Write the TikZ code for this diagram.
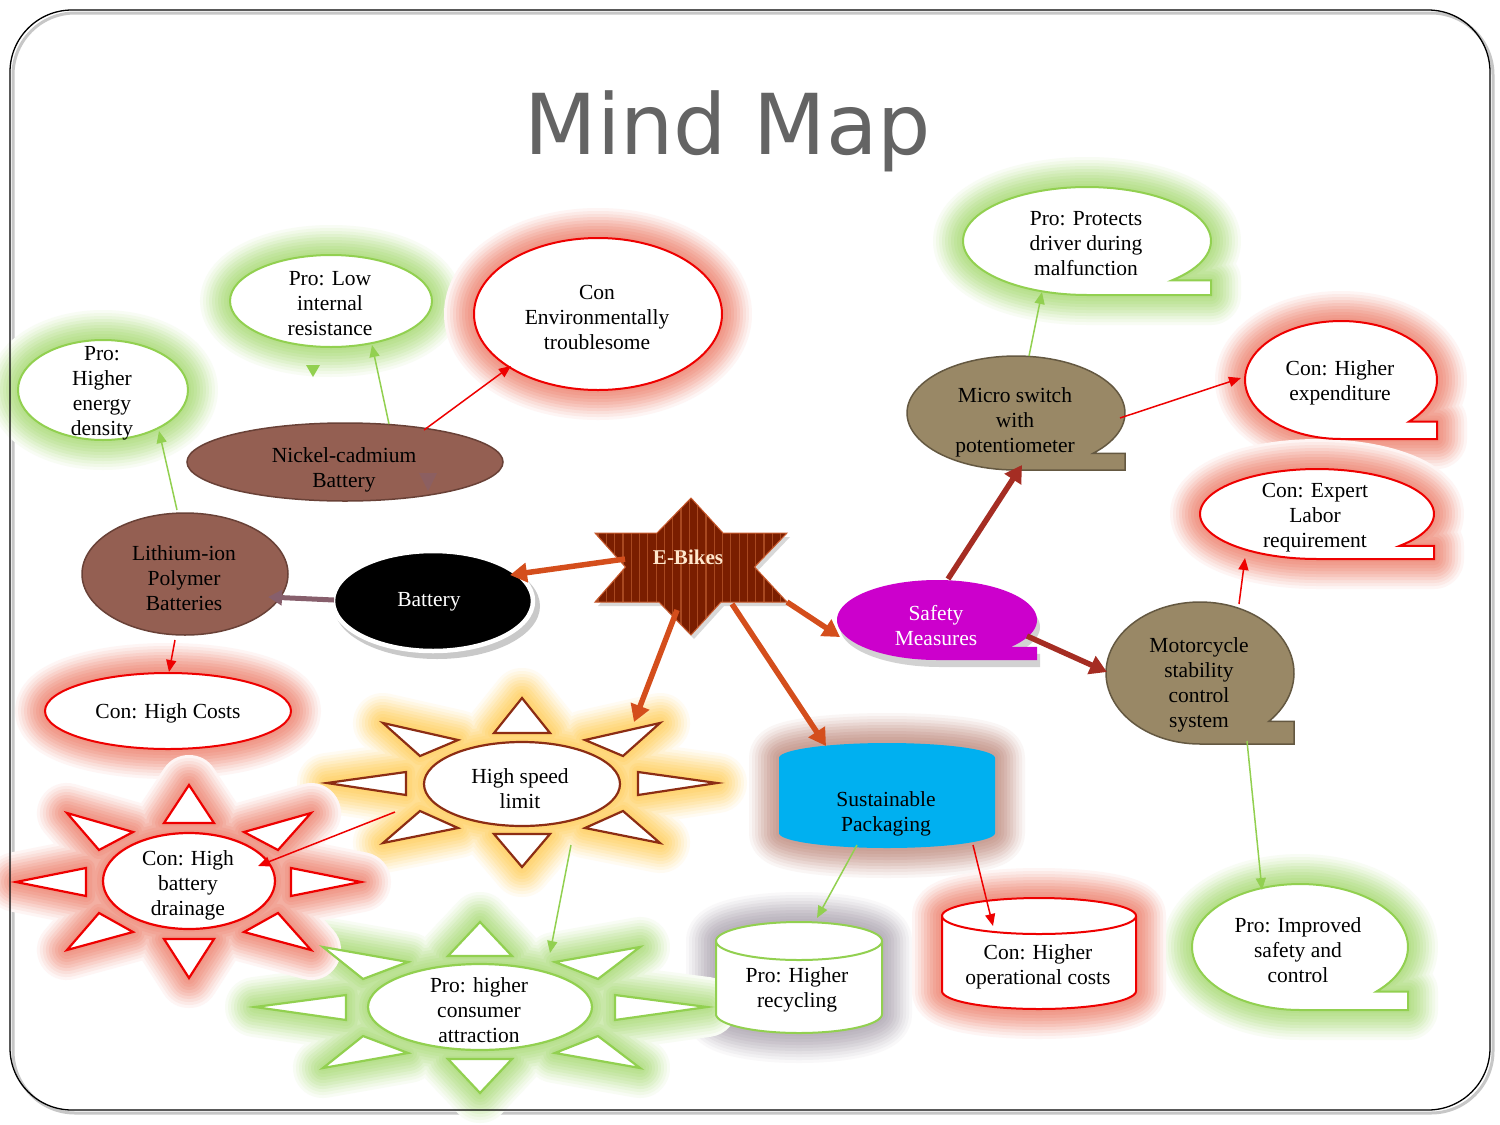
\documentclass[tikz,border=0pt]{standalone}
\usepackage{fontspec}
\setmainfont{Liberation Serif}
\newfontfamily\titlefont{DejaVu Sans}
\usetikzlibrary{shapes.geometric,arrows.meta,calc}

\definecolor{grn}{RGB}{146,208,80}
\definecolor{rd}{RGB}{238,0,0}
\definecolor{redglow}{RGB}{232,95,70}
\definecolor{grnglow}{RGB}{145,208,80}
\definecolor{yelglow}{RGB}{255,190,40}
\definecolor{pinkglow}{RGB}{175,110,95}
\definecolor{grayglow}{RGB}{150,140,155}
\definecolor{brfill}{RGB}{148,95,82}
\definecolor{brline}{RGB}{105,65,55}
\definecolor{tanfill}{RGB}{153,136,102}
\definecolor{tanline}{RGB}{100,88,65}
\definecolor{magfill}{RGB}{204,0,204}
\definecolor{cyanfill}{RGB}{0,176,240}
\definecolor{orarrow}{RGB}{212,78,28}
\definecolor{mauvearrow}{RGB}{135,95,108}
\definecolor{dkarrow}{RGB}{165,45,35}
\definecolor{sunline}{RGB}{140,45,20}
\definecolor{starfill}{RGB}{122,30,0}
\definecolor{starline}{RGB}{168,72,32}
\definecolor{staredge}{RGB}{200,90,45}
\definecolor{titlegray}{RGB}{100,100,100}
\definecolor{ebtext}{RGB}{255,232,205}

\pgfdeclarelayer{bglayer}
\pgfdeclarelayer{glowlayer}
\pgfsetlayers{bglayer,glowlayer,main}

\tikzset{
  gstep/.style n args={3}{preaction={draw=#1!#2!white,line width=#3,line join=round,line cap=round}},
  glow/.style={gstep={#1}{6}{60pt},gstep={#1}{13}{54pt},gstep={#1}{20}{48pt},
    gstep={#1}{28}{42pt},gstep={#1}{36}{36pt},gstep={#1}{43}{30pt},
    gstep={#1}{50}{24pt},gstep={#1}{56}{18pt},gstep={#1}{61}{12pt},gstep={#1}{65}{6pt}},
  shapebase/.style={ellipse,inner sep=0pt,outer sep=0pt},
  proell/.style={shapebase,draw=grn,line width=2pt,fill=white},
  conell/.style={shapebase,draw=rd,line width=2pt,fill=white},
  brell/.style={shapebase,draw=brline,line width=1.5pt,fill=brfill},
  txt/.style={align=center,inner sep=0pt,yshift=-2pt,font=\fontsize{21.5}{25}\selectfont},
  proarrow/.style={draw=grn,line width=1.5pt,-{Triangle[length=12pt,width=10pt]}},
  conarrow/.style={draw=rd,line width=1.5pt,-{Triangle[length=12pt,width=10pt]}},
  bigarrow/.style={line width=5.5pt,-{Triangle[length=17pt,width=19pt]}}
}

% callout: cx cy rx ry endangle style
\newcommand\calloutshape[6]{\path[#6] ({#1},{#2+#4}) -- plot[domain=90:#5,samples=90] ({#1+#3*cos(\x)},{#2+#4*sin(\x)}) -- ({#1+#3},{#2+#4*sin(#5)}) -- ({#1+#3},{#2+#4}) -- cycle;}
% cylinder: cx topcy botcy rx ry style
\newcommand\cylshape[6]{\path[#6] ({#1-#4},{#2}) -- plot[domain=180:360,samples=60] ({#1+#4*cos(\x)},{#2+#5*sin(\x)}) -- ({#1+#4},{#3}) -- plot[domain=0:180,samples=60] ({#1+#4*cos(\x)},{#3+#5*sin(\x)}) -- cycle;}
\newcommand\cyltop[5]{\path[#5] plot[domain=0:180,samples=60] ({#1+#3*cos(\x)},{#2+#4*sin(\x)});}
% suns
\newcommand\sunHSL[2]{\path[#1,shift={(522,784)}] #2
  (0,-86)--(28,-51)--(-28,-51)--cycle (0,83)--(28,50)--(-28,50)--cycle
  (-195,-1)--(-116,-12)--(-116,11)--cycle (195,-1)--(116,-12)--(116,11)--cycle
  (-139,-61)--(-64,-44)--(-102,-28)--cycle (138,-61)--(63,-44)--(101,-28)--cycle
  (-139,59)--(-64,44)--(-102,27)--cycle (138,59)--(63,44)--(101,27)--cycle;}
\newcommand\sunDRN[2]{\path[#1,shift={(189,881)}] #2
  (0,-96)--(25,-58)--(-25,-58)--cycle (0,97)--(25,58)--(-25,58)--cycle
  (-173,1)--(-103,-13)--(-103,15)--cycle (172,1)--(102,-13)--(102,15)--cycle
  (-122,-68)--(-56,-49)--(-90,-31)--cycle (122,-68)--(55,-49)--(89,-31)--cycle
  (-122,69)--(-56,51)--(-90,32)--cycle (122,69)--(55,51)--(89,32)--cycle;}
\newcommand\sunCON[2]{\path[#1,shift={(480,1007)}] #2
  (0,-85)--(32,-51)--(-32,-51)--cycle (0,86)--(32,52)--(-32,52)--cycle
  (-225,0)--(-134,-12)--(-134,13)--cycle (227,0)--(135,-12)--(135,13)--cycle
  (-157,-60)--(-72,-45)--(-117,-28)--cycle (160,-60)--(75,-45)--(118,-28)--cycle
  (-157,61)--(-72,46)--(-117,29)--cycle (160,61)--(75,46)--(118,29)--cycle;}
\newcommand\starpath{(691,498) -- (723,533) -- (787,533) -- (754.5,567) -- (787,602) -- (721,602) -- (691,635) -- (659,602) -- (595,602) -- (625.5,567) -- (595,533) -- (657,533) -- cycle}

\begin{document}
\begin{tikzpicture}[x=1pt,y=-1pt]
\useasboundingbox (0,0) rectangle (1500,1125);
\begin{pgfonlayer}{bglayer}
\fill[white] (0,0) rectangle (1500,1125);
\draw[line width=3pt,black!22,rounded corners=62pt] (13,13) rectangle (1493,1113);
\end{pgfonlayer}

% ---------- glows ----------
\begin{pgfonlayer}{glowlayer}
\path[glow=grnglow] (103,390) ellipse [x radius=85,y radius=50];
\path[glow=grnglow] (331,301) ellipse [x radius=101,y radius=46];
\path[glow=redglow] (598,314) ellipse [x radius=124,y radius=76];
\path[glow=redglow] (168,711) ellipse [x radius=123,y radius=38];
\calloutshape{1087}{241}{124}{54}{407}{glow=grnglow}
\calloutshape{1341}{380}{96}{59}{405}{glow=redglow}
\calloutshape{1317}{514}{117}{45}{405}{glow=redglow}
\calloutshape{1300}{947}{108}{63}{405}{glow=grnglow}
\cylshape{887}{758}{833}{108}{15}{glow=pinkglow}
\cylshape{799}{941}{1014}{83}{19}{glow=grayglow}
\cylshape{1039}{916}{991}{97}{18}{glow=redglow}
\sunCON{glow=grnglow}{(0,0) ellipse [x radius=112,y radius=43]}
\sunHSL{glow=yelglow}{(0,0) ellipse [x radius=98,y radius=42]}
\sunDRN{glow=redglow}{(0,0) ellipse [x radius=86,y radius=48]}
\end{pgfonlayer}

% ---------- frame and title ----------
\draw[line width=1.3pt,black,rounded corners=62pt] (10,10) rectangle (1490,1110);
\node[font=\titlefont\fontsize{84}{90}\selectfont,text=titlegray,inner sep=0pt] (title) at (728,131) {Mind Map};

% ---------- left: battery branch ----------
\node[proell,minimum width=170pt,minimum height=100pt] (prohed) at (103,390) {};
\node[proell,minimum width=202pt,minimum height=92pt] (prolow) at (331,301) {};
\node[conell,minimum width=248pt,minimum height=152pt] (conenv) at (598,314) {};
\node[brell,minimum width=316pt,minimum height=78pt] (nicad) at (345,462) {};
\node[brell,minimum width=206pt,minimum height=122pt] (lipo) at (185,574) {};
\node[conell,minimum width=246pt,minimum height=76pt] (conhc) at (168,711) {};
\fill[black!35,opacity=0.6] (437,606) ellipse [x radius=103,y radius=53];
\node[shapebase,fill=black,draw=white,line width=4.5pt,minimum width=200pt,minimum height=100pt] (battery) at (433,601) {};

% ---------- E-Bikes star ----------
\fill[black!30,opacity=0.5,shift={(3,4)}] \starpath;
\fill[starfill] \starpath;
\begin{scope}
\clip \starpath;
\foreach \i in {0,...,23} \draw[starline,line width=1.2pt] ({598+\i*8.3},490) -- ++(0,150);
\end{scope}
\draw[staredge,line width=1pt] \starpath;
\node[circle,inner sep=0pt,minimum size=96pt] (ebikes) at (691,566) {};

% ---------- safety branch ----------
\calloutshape{940}{627}{100}{40}{402}{fill=black!25,opacity=0.7}
\calloutshape{937}{620}{100}{40}{402}{fill=magfill}
\node[shapebase,minimum width=200pt,minimum height=80pt] (safety) at (937,620) {};
\calloutshape{1016}{413}{109}{57}{405}{fill=tanfill,draw=tanline,line width=1.5pt}
\node[shapebase,minimum width=218pt,minimum height=114pt] (micro) at (1016,413) {};
\calloutshape{1200}{673}{94}{71}{403}{fill=tanfill,draw=tanline,line width=1.5pt}
\node[shapebase,minimum width=188pt,minimum height=142pt] (moto) at (1200,673) {};
\calloutshape{1087}{241}{124}{54}{407}{fill=white,draw=grn,line width=2pt}
\node[shapebase,minimum width=248pt,minimum height=108pt] (proprot) at (1087,241) {};
\calloutshape{1341}{380}{96}{59}{405}{fill=white,draw=rd,line width=2pt}
\node[shapebase,minimum width=192pt,minimum height=118pt] (conexp) at (1341,380) {};
\calloutshape{1317}{514}{117}{45}{405}{fill=white,draw=rd,line width=2pt}
\node[shapebase,minimum width=234pt,minimum height=90pt] (conlab) at (1317,514) {};
\calloutshape{1300}{947}{108}{63}{405}{fill=white,draw=grn,line width=2pt}
\node[shapebase,minimum width=216pt,minimum height=126pt] (proimp) at (1300,947) {};

% ---------- packaging branch ----------
\cylshape{887}{758}{833}{108}{15}{fill=cyanfill}
\node[rectangle,inner sep=0pt,minimum width=216pt,minimum height=104pt] (sust) at (887,796) {};
\cylshape{799}{941}{1014}{83}{19}{fill=white,draw=grn,line width=2pt}
\cyltop{799}{941}{83}{19}{draw=grn,line width=2pt}
\node[rectangle,inner sep=0pt,minimum width=166pt,minimum height=110pt] (prorec) at (799,977) {};
\cylshape{1039}{916}{991}{97}{18}{fill=white,draw=rd,line width=2pt}
\cyltop{1039}{916}{97}{18}{draw=rd,line width=2pt}
\node[rectangle,inner sep=0pt,minimum width=194pt,minimum height=110pt] (conop) at (1040,955) {};

% ---------- suns ----------
\sunHSL{fill=white,draw=sunline,line width=2.2pt}{}
\node[shapebase,fill=white,draw=sunline,line width=2.2pt,minimum width=196pt,minimum height=84pt] (hsl) at (522,784) {};
\sunDRN{fill=white,draw=rd,line width=2.2pt}{}
\node[shapebase,fill=white,draw=rd,line width=2.2pt,minimum width=172pt,minimum height=96pt] (condrain) at (189,881) {};
\sunCON{fill=white,draw=grn,line width=2.2pt}{}
\node[shapebase,fill=white,draw=grn,line width=2.2pt,minimum width=224pt,minimum height=86pt] (procons) at (480,1007) {};

% ---------- texts ----------
\node[txt] (prohedt) at (102,391) {Pro:\\Higher\\energy\\density};
\node[txt] (prolowt) at (330,302) {Pro: Low\\internal\\resistance};
\node[txt] (conenvt) at (597,315) {Con\\Environmentally\\troublesome};
\node[txt] (nicadt) at (344,468) {Nickel-cadmium\\Battery};
\node[txt] (lipot) at (184,576) {Lithium-ion\\Polymer\\Batteries};
\node[txt] (conhct) at (168,711) {Con: High Costs};
\node[txt,text=white] (batteryt) at (429,600) {Battery};
\node[txt,text=ebtext,font=\fontsize{21}{25}\selectfont\bfseries] (ebikest) at (688,555) {E-Bikes};
\node[txt,text=white] (safetyt) at (936,624) {Safety\\Measures};
\node[txt] (microt) at (1015,420) {Micro switch\\with\\potentiometer};
\node[txt] (proprott) at (1086,242) {Pro: Protects\\driver during\\malfunction};
\node[txt] (conexpt) at (1340,381) {Con: Higher\\expenditure};
\node[txt] (conlabt) at (1315,516) {Con: Expert\\Labor\\requirement};
\node[txt] (motot) at (1199,683) {Motorcycle\\stability\\control\\system};
\node[txt] (proimpt) at (1298,948) {Pro: Improved\\safety and\\control};
\node[txt] (sustt) at (886,812) {Sustainable\\Packaging};
\node[txt] (prorect) at (797,988) {Pro: Higher\\recycling};
\node[txt] (conopt) at (1038,965) {Con: Higher\\operational costs};
\node[txt] (hslt) at (520,787) {High speed\\limit};
\node[txt] (condraint) at (188,883) {Con: High\\battery\\drainage};
\node[txt] (proconst) at (479,1008) {Pro: higher\\consumer\\attraction};

% ---------- stray arrowheads ----------
\fill[grn] (306,365) -- (320,365) -- (313,377) -- cycle;
\fill[mauvearrow,opacity=0.6] (419,473) -- (437,473) -- (428,491) -- cycle;

% ---------- connectors ----------
\draw[bigarrow,orarrow] ($(ebikes)+(-66,-7)$) -- ($(battery)+(77,-26)$);
\draw[bigarrow,orarrow] ($(ebikes)+(-14,44)$) -- ($(hsl)+(112,-62)$);
\draw[bigarrow,orarrow] ($(ebikes)+(41,38)$) -- ($(sust)+(-61,-50)$);
\draw[bigarrow,orarrow] ($(ebikes)+(96,36)$) -- ($(safety)+(-97,17)$);
\draw[line width=5pt,mauvearrow,-{Triangle[length=14pt,width=15pt]}] ($(battery)+(-99,-1)$) -- ($(lipo)+(83,23)$);
\draw[proarrow] ($(lipo)+(-8,-64)$) -- ($(prohed)+(56,41)$);
\draw[conarrow] ($(lipo)+(-10,66)$) -- ($(conhc)+(1,-39)$);
\draw[proarrow] ($(nicad)+(44,-38)$) -- ($(prolow)+(41,44)$);
\draw[conarrow] ($(nicad)+(79,-32)$) -- ($(conenv)+(-87,52)$);
\draw[bigarrow,dkarrow] ($(safety)+(11,-41)$) -- ($(micro)+(6,52)$);
\draw[bigarrow,dkarrow] ($(safety)+(90,16)$) -- ($(moto)+(-93,-1)$);
\draw[proarrow] ($(micro)+(13,-57)$) -- ($(proprot)+(-45,51)$);
\draw[conarrow] ($(micro)+(104,5)$) -- ($(conexp)+(-100,-2)$);
\draw[conarrow] ($(moto)+(39,-69)$) -- ($(conlab)+(-72,44)$);
\draw[proarrow] ($(moto)+(47,68)$) -- ($(proimp)+(-38,-57)$);
\draw[proarrow] ($(sust)+(-30,49)$) -- ($(prorec)+(18,-59)$);
\draw[conarrow] ($(sust)+(86,49)$) -- ($(conop)+(-47,-29)$);
\draw[conarrow] ($(hsl)+(-127,28)$) -- ($(condrain)+(69,-15)$);
\draw[proarrow] ($(hsl)+(49,61)$) -- ($(procons)+(70,-54)$);
\end{tikzpicture}
\end{document}
